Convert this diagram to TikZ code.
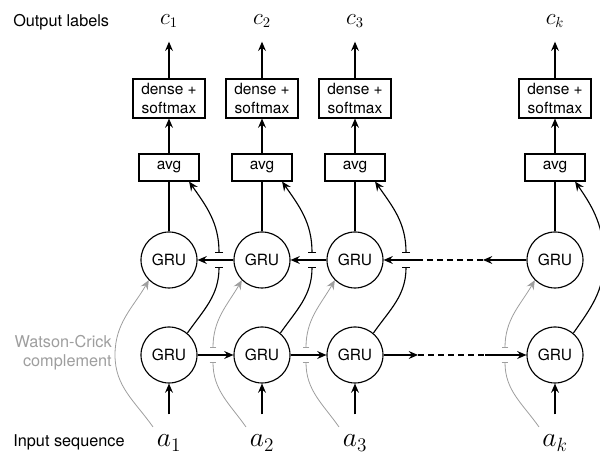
\documentclass[tikz,border=0pt]{standalone}
\usepackage{fontspec}
\setmainfont{TeX Gyre Heros}
\usetikzlibrary{arrows.meta}

\begin{document}
\begin{tikzpicture}[x=0.75pt,y=0.75pt,
    gru/.style={draw, circle, line width=0.85pt, minimum size=42pt, inner sep=0pt, font=\fontsize{11.6}{13}\selectfont},
    avgbox/.style={draw, line width=0.85pt, minimum width=45pt, minimum height=20.25pt, inner sep=0pt, font=\fontsize{11.6}{13}\selectfont},
    densebox/.style={draw, line width=0.85pt, minimum width=54pt, minimum height=29.25pt, inner sep=0pt, align=center, font=\fontsize{11.6}{14.25}\selectfont},
    sidelab/.style={inner sep=0pt, font=\fontsize{12.2}{14.25}\selectfont},
    outlab/.style={font=\fontsize{16}{18}\selectfont},
    inlab/.style={font=\fontsize{20}{22}\selectfont},
    arr/.style={line width=0.85pt, -{Stealth[length=7pt,width=6pt,inset=2.5pt]}},
    jumparr/.style={line width=0.85pt, {Bar[width=6pt]}-{Stealth[length=7pt,width=6pt,inset=2.5pt]}},
    jumpend/.style={line width=0.85pt, -{Bar[width=6pt]}},
    wc/.style={draw=wcgray, line width=0.6pt},
    wcarr/.style={wc, -{Stealth[length=7pt,width=6pt,inset=2.5pt]}},
    wcjumparr/.style={wc, {Bar[width=5pt]}-{Stealth[length=7pt,width=6pt,inset=2.5pt]}},
    wcjumpend/.style={wc, -{Bar[width=5pt]}},
    dots/.style={line width=0.85pt, dash pattern=on 4.5pt off 3pt}
]
        \definecolor{wcgray}{gray}{0.62}
        \clip (0,0) rectangle (600,456);

        % Side labels
        \node[sidelab, anchor=west] (outtext) at (13,434) {Output labels};
        \node[sidelab, anchor=west] (intext) at (13,14) {Input sequence};
        \node[sidelab, anchor=east, align=right, text=wcgray] (wctext) at (112,103) {Watson-Crick\\complement};

        % Output labels and heads
        \node[outlab] (c1) at (169,435) {$c_1$};
        \node[outlab] (c2) at (262,435) {$c_2$};
        \node[outlab] (c3) at (355,435) {$c_3$};
        \node[outlab] (ck) at (555,435) {$c_k$};
        \node[densebox] (d1) at (169,357.5) {dense +\\softmax};
        \node[densebox] (d2) at (262,357.5) {dense +\\softmax};
        \node[densebox] (d3) at (355,357.5) {dense +\\softmax};
        \node[densebox] (dk) at (555,357.5) {dense +\\softmax};
        \node[avgbox] (avg1) at (169,288.5) {avg};
        \node[avgbox] (avg2) at (262,288.5) {avg};
        \node[avgbox] (avg3) at (355,288.5) {avg};
        \node[avgbox] (avgk) at (555,288.5) {avg};

        % Backward and forward GRUs
        \node[gru] (t1) at (169,196) {GRU};
        \node[gru] (t2) at (262,196) {GRU};
        \node[gru] (t3) at (355,196) {GRU};
        \node[gru] (tk) at (555,196) {GRU};
        \node[gru] (b1) at (169,101) {GRU};
        \node[gru] (b2) at (262,101) {GRU};
        \node[gru] (b3) at (355,101) {GRU};
        \node[gru] (bk) at (555,101) {GRU};

        % Input labels
        \node[inlab] (a1) at (169,13) {$a_1$};
        \node[inlab] (a2) at (262,13) {$a_2$};
        \node[inlab] (a3) at (355,13) {$a_3$};
        \node[inlab] (ak) at (555,13) {$a_k$};

        % Vertical arrows
        \draw[arr, shorten >=7pt] (d1) -- (c1);
        \draw[arr, shorten >=7pt] (d2) -- (c2);
        \draw[arr, shorten >=7pt] (d3) -- (c3);
        \draw[arr, shorten >=7pt] (dk) -- (ck);
        \draw[arr] (avg1) -- (d1);
        \draw[arr] (avg2) -- (d2);
        \draw[arr] (avg3) -- (d3);
        \draw[arr] (avgk) -- (dk);
        \draw[line width=0.85pt] (t1) -- (avg1);
        \draw[line width=0.85pt] (t2) -- (avg2);
        \draw[line width=0.85pt] (t3) -- (avg3);
        \draw[line width=0.85pt] (tk) -- (avgk);
        \draw[arr, shorten <=12pt] (a1) -- (b1);
        \draw[arr, shorten <=12pt] (a2) -- (b2);
        \draw[arr, shorten <=12pt] (a3) -- (b3);
        \draw[arr, shorten <=12pt] (ak) -- (bk);

        % Top row runs right to left
        \coordinate (tgapL) at (420,196);
        \coordinate (tgapR) at (483,196);
        \draw[arr] (t2) -- (t1);
        \draw[arr] (t3) -- (t2);
        \draw[arr] (tk) -- (tgapR);
        \draw[dots] (tgapR) -- (tgapL);
        \draw[arr] (tgapL) -- (t3);

        % Bottom row runs left to right
        \coordinate (bgapL) at (418,101);
        \coordinate (bgapR) at (485,101);
        \draw[arr] (b1) -- (b2);
        \draw[arr] (b2) -- (b3);
        \draw[arr] (b3) -- (bgapL);
        \draw[dots] (bgapL) -- (bgapR);
        \draw[arr] (bgapR) -- (bk);

        % Forward states into avg (jump over the top row)
        \draw[jumpend] (b1.50) to[out=55,in=-90] (219,189);
        \draw[jumparr] (219,203) to[out=90,in=-55] (avg1.-35);
        \draw[jumpend] (b2.50) to[out=55,in=-90] (312,189);
        \draw[jumparr] (312,203) to[out=90,in=-55] (avg2.-35);
        \draw[jumpend] (b3.50) to[out=55,in=-90] (406,189);
        \draw[jumparr] (406,203) to[out=90,in=-55] (avg3.-35);
        \draw[arr] (bk.50) to[out=55,in=-90] (604,196) to[out=90,in=-55] (avgk.-35);

        % Watson-Crick complement into the backward GRUs
        \draw[wcarr] (153,29) to[out=125,in=-90] (115,101) to[out=90,in=-120] (t1.225);
        \draw[wcjumpend] (246,29) to[out=125,in=-90] (213,94);
        \draw[wcjumparr] (213,108) to[out=90,in=-120] (t2.225);
        \draw[wcjumpend] (339,29) to[out=125,in=-90] (306,94);
        \draw[wcjumparr] (306,108) to[out=90,in=-120] (t3.225);
        \draw[wcjumpend] (539,29) to[out=125,in=-90] (505,94);
        \draw[wcjumparr] (505,108) to[out=90,in=-120] (tk.225);
    \end{tikzpicture}
\end{document}
